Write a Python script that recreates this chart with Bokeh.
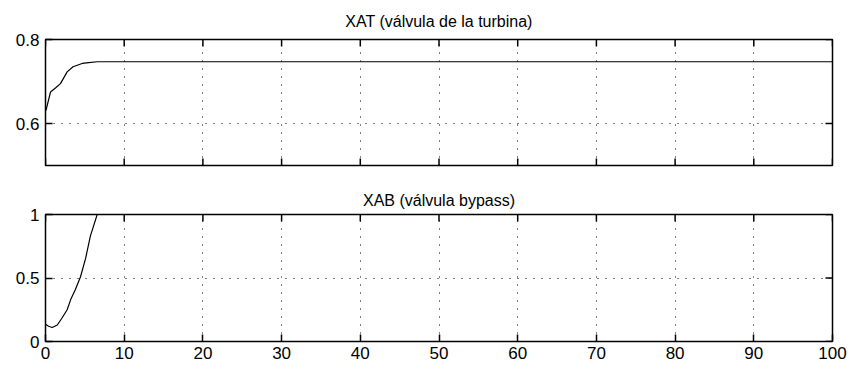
import math
from bokeh.plotting import figure
from bokeh.layouts import column
from bokeh.models import Range1d, FixedTicker
from bokeh.embed import file_html
from bokeh.resources import INLINE

# Turbine valve position over time
xat_t = [0, 0.1, 0.64, 1.3, 1.9, 2.75, 3.5, 4.66, 5.5, 6.57, 100]
xat_v = [0.63, 0.634, 0.675, 0.685, 0.695, 0.723, 0.735, 0.743, 0.745, 0.747, 0.747]

# Bypass valve position over time
xab_t = [0, 0.4, 0.85, 1.5, 2.1, 2.75, 3.2, 3.8, 4.45, 5.08, 5.7, 6.57, 7.2]
xab_v = [0.135, 0.12, 0.11, 0.13, 0.185, 0.25, 0.33, 0.41, 0.51, 0.65, 0.83, 1.0, 1.12]

x_ticks = [0, 10, 20, 30, 40, 50, 60, 70, 80, 90, 100]
xat_ticks = [0.6, 0.8]
xab_ticks = [0, 0.5, 1]

X_RANGE = (0, 100)
FONT = "Liberation Sans"
TICK = 7


def style_axis(ax, ticks):
    ax.ticker = FixedTicker(ticks=ticks)
    ax.axis_line_color = None
    ax.major_tick_in = TICK
    ax.major_tick_out = 0
    ax.major_tick_line_color = "black"
    ax.major_tick_line_width = 1.5
    ax.minor_tick_line_color = None
    ax.major_label_text_font = FONT
    ax.major_label_text_color = "black"
    ax.major_label_text_font_size = "17px"


def inner_ticks(p, xs, ys, angle):
    # dash markers centred on the frame edge; the half outside the frame is clipped
    p.scatter(xs, ys, marker="dash", size=2 * TICK, angle=angle,
              line_color="black", line_width=1.5)


def make_panel(title, t, v, y_range, y_ticks, height, top, bottom, x_labels, title_gap):
    p = figure(width=850, height=height, output_backend="svg", toolbar_location=None,
               x_range=Range1d(*X_RANGE), y_range=Range1d(*y_range),
               min_border_left=45, min_border_right=18,
               min_border_top=top, min_border_bottom=bottom)
    p.title.text = title
    p.title.align = "center"
    p.title.text_font = FONT
    p.title.text_font_size = "16px"
    p.title.text_font_style = "normal"
    p.title.text_color = "black"
    p.title.standoff = title_gap

    p.background_fill_color = "white"
    p.border_fill_color = "white"
    p.outline_line_color = "black"
    p.outline_line_width = 1.5

    style_axis(p.yaxis[0], y_ticks)
    p.yaxis[0].major_label_standoff = 6
    if x_labels:
        style_axis(p.xaxis[0], x_ticks)
        p.xaxis[0].major_label_standoff = 5
    else:
        p.xaxis.visible = False
        inner_ticks(p, x_ticks, [y_range[0]] * len(x_ticks), math.pi / 2)

    # tick marks along the top and right edges
    inner_ticks(p, x_ticks, [y_range[1]] * len(x_ticks), math.pi / 2)
    inner_ticks(p, [X_RANGE[1]] * len(y_ticks), y_ticks, 0)

    p.xgrid.ticker = FixedTicker(ticks=x_ticks)
    p.ygrid.ticker = FixedTicker(ticks=y_ticks)
    for g in (p.xgrid[0], p.ygrid[0]):
        g.grid_line_color = "black"
        g.grid_line_dash = "1 7"
        g.grid_line_width = 1

    p.line(t, v, line_color="black", line_width=1.2)
    return p


p1 = make_panel("XAT (válvula de la turbina)", xat_t, xat_v, (0.5, 0.8), xat_ticks,
                180, 38, 15, False, 20)
p2 = make_panel("XAB (válvula bypass)", xab_t, xab_v, (0, 1), xab_ticks,
                191, 34, 30, True, 12)

layout = column(p1, p2, spacing=0)
open("out.html", "w").write(file_html(layout, INLINE))
